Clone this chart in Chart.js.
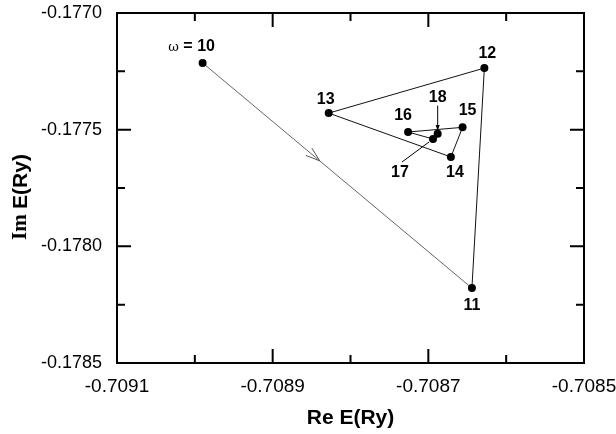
<!DOCTYPE html>
<html>
<head>
<meta charset="utf-8">
<script src="https://cdn.jsdelivr.net/npm/chart.js@4.4.0/dist/chart.umd.min.js"></script>
<style>
  html, body { margin: 0; padding: 0; background: #fff; }
  #wrap { width: 616px; height: 434px; }
</style>
</head>
<body>
<div id="wrap"><canvas id="chart"></canvas></div>
<script>
// omega steps and complex energy (Re, Im)
const omega = [10, 11, 12, 13, 14, 15, 16, 17, 18];
const reE = [-0.70899, -0.708644, -0.708628, -0.708828, -0.708671, -0.708656, -0.708726, -0.708694, -0.708688];
const imE = [-0.177214, -0.178179, -0.177236, -0.177429, -0.177617, -0.177490, -0.177510, -0.177540, -0.177517];

const xTicks = [-0.7091, -0.7089, -0.7087, -0.7085];
const xMinor = [-0.7090, -0.7088, -0.7086];
const yTicks = [-0.1785, -0.1780, -0.1775, -0.1770];
const yMinor = [-0.17825, -0.17775, -0.17725];

const FONT = '"Liberation Sans", Arial, sans-serif';

// label offsets (px) relative to each point
const labelOffsets = [[-11, -16], [0, 17], [3, -14], [-3, -14], [4, 16], [5, -17], [-5, -16], [-33, 34], [0, -36]];

function arrowHead(ctx, x, y, ang, len, half) {
    ctx.beginPath();
    ctx.moveTo(x, y);
    ctx.lineTo(x - len * Math.cos(ang - half), y - len * Math.sin(ang - half));
    ctx.lineTo(x - len * Math.cos(ang + half), y - len * Math.sin(ang + half));
    ctx.closePath();
    ctx.fill();
}

const decorPlugin = {
    id: 'decor',
    afterDatasetsDraw(chart) {
        const ctx = chart.ctx;
        const xs = chart.scales.x, ys = chart.scales.y;
        const a = chart.chartArea;
        const px = i => [xs.getPixelForValue(reE[i]), ys.getPixelForValue(imE[i])];
        ctx.save();
        ctx.strokeStyle = '#000';
        ctx.fillStyle = '#000';

        // frame
        ctx.lineWidth = 2;
        ctx.strokeRect(a.left, a.top, a.right - a.left, a.bottom - a.top);

        // inward ticks on all sides
        const tick = (vals, len) => {
            vals.forEach(v => {
                const x = xs.getPixelForValue(v);
                ctx.beginPath();
                ctx.moveTo(x, a.bottom); ctx.lineTo(x, a.bottom - len);
                ctx.moveTo(x, a.top); ctx.lineTo(x, a.top + len);
                ctx.stroke();
            });
        };
        const ytick = (vals, len) => {
            vals.forEach(v => {
                const y = ys.getPixelForValue(v);
                ctx.beginPath();
                ctx.moveTo(a.left, y); ctx.lineTo(a.left + len, y);
                ctx.moveTo(a.right, y); ctx.lineTo(a.right - len, y);
                ctx.stroke();
            });
        };
        tick(xTicks, 14); tick(xMinor, 8);
        ytick(yTicks, 14); ytick(yMinor, 8);

        // y axis title: serif "Im" + sans "E(Ry)"
        ctx.save();
        ctx.translate(21, 197);
        ctx.rotate(-Math.PI / 2);
        ctx.textBaseline = 'middle';
        ctx.textAlign = 'left';
        ctx.font = 'bold 21px "Liberation Serif", "Times New Roman", serif';
        const wIm = ctx.measureText('Im ').width;
        ctx.font = 'bold 21px ' + FONT;
        const wE = ctx.measureText('E(Ry)').width;
        const start = -(wIm + wE) / 2;
        ctx.font = 'bold 21px "Liberation Serif", "Times New Roman", serif';
        ctx.fillText('Im ', start, 0);
        ctx.font = 'bold 21px ' + FONT;
        ctx.fillText('E(Ry)', start + wIm, 0);
        ctx.restore();

        // direction chevron on the first segment
        const [x0, y0] = px(0), [x1, y1] = px(1);
        const t = 0.435;
        const cx = x0 + (x1 - x0) * t, cy = y0 + (y1 - y0) * t;
        const ang = Math.atan2(y1 - y0, x1 - x0);
        ctx.lineWidth = 1;
        ctx.strokeStyle = '#555';
        ctx.beginPath();
        ctx.moveTo(cx - 15 * Math.cos(ang - 0.32), cy - 15 * Math.sin(ang - 0.32));
        ctx.lineTo(cx, cy);
        ctx.lineTo(cx - 15 * Math.cos(ang + 0.32), cy - 15 * Math.sin(ang + 0.32));
        ctx.stroke();

        // leader lines for 17 and 18
        ctx.strokeStyle = '#000';
        const [p17x, p17y] = px(7), [p18x, p18y] = px(8);
        ctx.beginPath();
        ctx.moveTo(p18x, p18y - 28); ctx.lineTo(p18x, p18y - 6);
        ctx.stroke();
        arrowHead(ctx, p18x, p18y - 3, Math.PI / 2, 6, 0.35);
        ctx.beginPath();
        ctx.moveTo(p17x - 31, p17y + 23); ctx.lineTo(p17x - 4, p17y + 3);
        ctx.stroke();

        // point labels
        ctx.textAlign = 'center';
        ctx.textBaseline = 'middle';
        omega.forEach((w, i) => {
            const [x, y] = px(i);
            const [dx, dy] = labelOffsets[i];
            if (i === 0) {
                ctx.font = 'bold 16px ' + FONT;
                const rest = ' = ' + w;
                const wRest = ctx.measureText(rest).width;
                ctx.font = '13px "DejaVu Serif", serif';
                const wOm = ctx.measureText('ω').width;
                const left = x + dx - (wRest + wOm) / 2;
                ctx.textAlign = 'left';
                ctx.fillText('ω', left, y + dy + 1);
                ctx.font = 'bold 16px ' + FONT;
                ctx.fillText(rest, left + wOm, y + dy);
                ctx.textAlign = 'center';
            } else {
                ctx.font = 'bold 16px ' + FONT;
                ctx.fillText(String(w), x + dx, y + dy);
            }
        });
        ctx.restore();
    }
};

const points = reE.map((x, i) => ({ x: x, y: imE[i] }));

const noPad = s => { s.paddingTop = 0; s.paddingBottom = 0; s.paddingLeft = 0; s.paddingRight = 0; };

new Chart(document.getElementById('chart'), {
    type: 'scatter',
    data: {
        datasets: [{
            data: points,
            showLine: true,
            borderWidth: 1,
            borderColor: '#111',
            segment: {
                borderColor: c => c.p0DataIndex === 0 ? '#666' : '#111'
            },
            pointRadius: 4,
            pointBackgroundColor: '#000',
            pointBorderColor: '#000',
            pointBorderWidth: 0
        }]
    },
    options: {
        responsive: true,
        maintainAspectRatio: false,
        animation: false,
        layout: { padding: { top: 13, right: 32, left: 0, bottom: 0 } },
        plugins: { legend: { display: false }, tooltip: { enabled: false } },
        scales: {
            x: {
                type: 'linear',
                min: -0.7091,
                max: -0.7085,
                afterBuildTicks: s => { s.ticks = xTicks.map(v => ({ value: v })); },
                afterFit: s => { s.height = 71; noPad(s); },
                grid: { display: false, drawTicks: false },
                border: { display: false },
                ticks: {
                    padding: 12,
                    maxRotation: 0,
                    autoSkip: false,
                    color: '#000',
                    font: { family: FONT, size: 19 },
                    callback: v => v.toFixed(4)
                },
                title: {
                    display: true,
                    text: 'Re E(Ry)',
                    color: '#000',
                    font: { family: FONT, size: 21, weight: 'bold' },
                    padding: { top: 0, bottom: 3 }
                }
            },
            y: {
                type: 'linear',
                min: -0.1785,
                max: -0.1770,
                afterBuildTicks: s => { s.ticks = yTicks.map(v => ({ value: v })); },
                afterFit: s => { s.width = 117; noPad(s); },
                grid: { display: false, drawTicks: false },
                border: { display: false },
                ticks: {
                    padding: 15,
                    autoSkip: false,
                    color: '#000',
                    font: { family: FONT, size: 18 },
                    callback: v => v.toFixed(4)
                },
                title: { display: false }
            }
        }
    },
    plugins: [decorPlugin]
});
</script>
</body>
</html>
